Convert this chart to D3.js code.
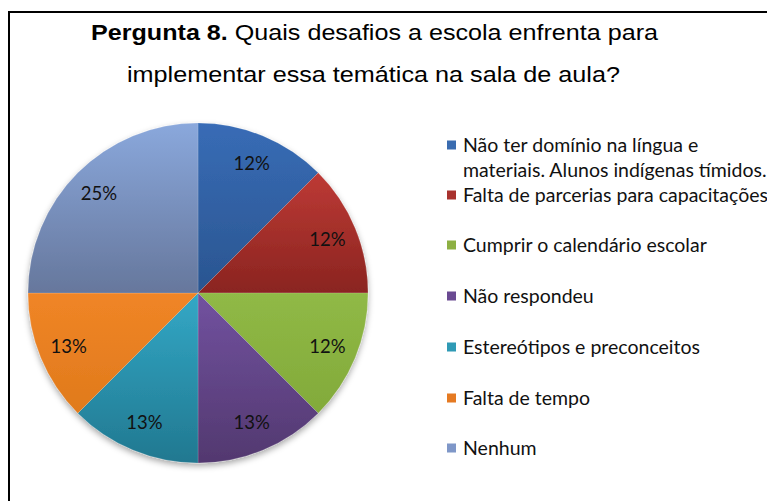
<!DOCTYPE html>
<html>
<head>
<meta charset="utf-8">
<script src="https://d3js.org/d3.v7.min.js"></script>
<style>
  body { margin: 0; background: #fff; overflow: hidden; }
</style>
</head>
<body>
<script>
var width = 767, height = 501;

// data
var categories = [
  ["Não ter domínio na língua e", "materiais. Alunos indígenas tímidos."],
  ["Falta de parcerias para capacitações"],
  ["Cumprir o calendário escolar"],
  ["Não respondeu"],
  ["Estereótipos e preconceitos"],
  ["Falta de tempo"],
  ["Nenhum"]
];
var values = [12.5, 12.5, 12.5, 12.5, 12.5, 12.5, 25];
var valueLabels = ["12%", "12%", "12%", "13%", "13%", "13%", "25%"];
var topColors = ["#386cb6", "#bd3a35", "#90b946", "#7252a0", "#33a8c6", "#f08526", "#8aa8dc"];
var bottomColors = ["#2a5590", "#8a2420", "#82aa3a", "#52386f", "#217890", "#e07a1c", "#66779c"];
var legendColors = ["#3a6cb0", "#a8322e", "#8db043", "#6a4a92", "#2f9ab5", "#e57a22", "#7f97c8"];

var svg = d3.select("body").append("svg")
  .attr("width", width)
  .attr("height", height);

var defs = svg.append("defs");

topColors.forEach(function(c, i) {
  var g = defs.append("linearGradient")
    .attr("id", "grad" + i)
    .attr("x1", 0).attr("y1", 0).attr("x2", 0).attr("y2", 1);
  g.append("stop").attr("offset", "0%").attr("stop-color", c);
  g.append("stop").attr("offset", "100%").attr("stop-color", bottomColors[i]);
});

var shadow = defs.append("filter")
  .attr("id", "shadow")
  .attr("x", "-10%").attr("y", "-10%").attr("width", "120%").attr("height", "125%");
shadow.append("feDropShadow")
  .attr("dx", 0).attr("dy", 3)
  .attr("stdDeviation", 3)
  .attr("flood-color", "#000")
  .attr("flood-opacity", 0.35);

svg.append("rect")
  .attr("x", 0).attr("y", 0)
  .attr("width", width).attr("height", height)
  .attr("fill", "#fff");

// chart frame (continues past the right and bottom edges)
svg.append("path")
  .attr("d", "M9," + (height + 5) + " V12 H" + (width + 5))
  .attr("fill", "none")
  .attr("stroke", "#000")
  .attr("stroke-width", 2);

// title
var t1 = svg.append("text")
  .attr("x", 91).attr("y", 40)
  .attr("textLength", 567)
  .attr("lengthAdjust", "spacingAndGlyphs")
  .style("font-family", "'Liberation Sans', Arial, sans-serif")
  .style("font-size", "22px")
  .attr("fill", "#000");
t1.append("tspan").style("font-weight", "bold").text("Pergunta 8.");
t1.append("tspan").text(" Quais desafios a escola enfrenta para");

svg.append("text")
  .attr("x", 127).attr("y", 82)
  .attr("textLength", 493)
  .attr("lengthAdjust", "spacingAndGlyphs")
  .style("font-family", "'Liberation Sans', Arial, sans-serif")
  .style("font-size", "22px")
  .attr("fill", "#000")
  .text("implementar essa temática na sala de aula?");

// pie
var cx = 198, cy = 293, radius = 170;

var pie = d3.pie().sort(null).value(function(d) { return d; });
var arcs = pie(values);
var arc = d3.arc().innerRadius(0).outerRadius(radius);
var labelArc = d3.arc().innerRadius(140).outerRadius(140);

var pieG = svg.append("g")
  .attr("transform", "translate(" + cx + "," + cy + ")");

pieG.append("g")
  .attr("filter", "url(#shadow)")
  .selectAll("path")
  .data(arcs)
  .enter().append("path")
  .attr("d", arc)
  .attr("fill", function(d, i) { return "url(#grad" + i + ")"; })
  .attr("stroke", "rgba(255,255,255,0.25)")
  .attr("stroke-width", 0.6);

pieG.selectAll("text.lbl")
  .data(arcs)
  .enter().append("text")
  .attr("class", "lbl")
  .attr("transform", function(d) { return "translate(" + labelArc.centroid(d) + ")"; })
  .attr("text-anchor", "middle")
  .attr("dy", "0.35em")
  .style("font-family", "Lato, 'Open Sans', sans-serif")
  .style("font-size", "18.5px")
  .attr("fill", "#111")
  .text(function(d, i) { return valueLabels[i]; });

// legend
var legendY = [145, 195, 245, 296, 347, 398, 448];
var legend = svg.append("g");

var items = legend.selectAll("g")
  .data(categories)
  .enter().append("g")
  .attr("transform", function(d, i) { return "translate(447," + legendY[i] + ")"; });

items.append("rect")
  .attr("x", 0).attr("y", -4.5)
  .attr("width", 9).attr("height", 9)
  .attr("fill", function(d, i) { return legendColors[i]; });

items.append("text")
  .attr("x", 16)
  .style("font-family", "Lato, 'Open Sans', sans-serif")
  .style("font-size", "19.5px")
  .attr("fill", "#111")
  .selectAll("tspan")
  .data(function(d) { return d; })
  .enter().append("tspan")
  .attr("x", 16)
  .attr("y", function(d, j) { return j * 25; })
  .attr("dy", "0.35em")
  .text(function(d) { return d; });
</script>
</body>
</html>
